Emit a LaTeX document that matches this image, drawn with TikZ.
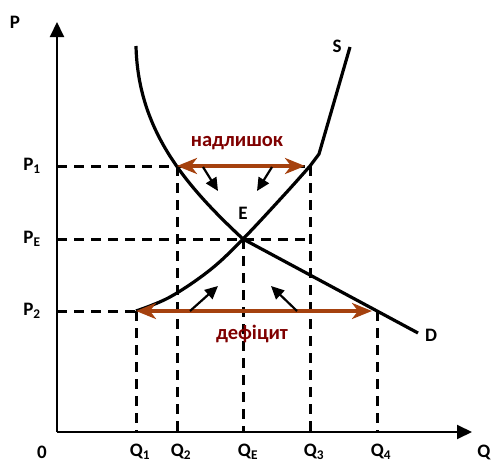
\documentclass[tikz,border=0pt]{standalone}
\usepackage{fontspec}
\setmainfont{Carlito}
\usetikzlibrary{arrows.meta}
\definecolor{brownarr}{HTML}{A5410E}
\definecolor{darkred}{HTML}{7F0000}
\tikzset{
  axis/.style={line width=2pt,-{Triangle[length=15pt,width=14pt]}},
  curve/.style={line width=3.2pt},
  guide/.style={line width=3pt,dash pattern=on 10pt off 7pt},
  brownline/.style={line width=3.4pt,draw=brownarr,{Stealth[length=20pt,width=16pt,inset=6pt]}-{Stealth[length=20pt,width=16pt,inset=6pt]}},
  smallarr/.style={line width=2.2pt,-{Triangle[length=13pt,width=12pt]}},
  lbl/.style={font=\fontsize{19}{22}\selectfont\bfseries,inner sep=0pt},
  wordlbl/.style={font=\fontsize{20.5}{24}\selectfont\bfseries,text=darkred,inner sep=0pt}
}
\newcommand{\lsub}[1]{\textsubscript{#1}}
\begin{document}
\begin{tikzpicture}[x=1pt,y=-1pt]
\useasboundingbox (0,0) rectangle (491,463);
% key points
\coordinate (O) at (57,432);
\coordinate (Ptop) at (57,22);
\coordinate (Qend) at (472,432);
\coordinate (A1) at (57,166);
\coordinate (AE) at (57,239);
\coordinate (A2) at (57,311);
\coordinate (B1) at (136,432);
\coordinate (B2) at (177,432);
\coordinate (BE) at (243,432);
\coordinate (B3) at (310,432);
\coordinate (B4) at (377,432);
\coordinate (X2) at (177,166);
\coordinate (X3) at (310,166);
\coordinate (E) at (243,239);
\coordinate (EE) at (310,239);
\coordinate (Y1) at (136,311);
\coordinate (Y4) at (377,311);
% dashed guides
\draw[guide] (A1) -- (X3);
\draw[guide] (AE) -- (EE);
\draw[guide] (A2) -- (Y1);
\draw[guide] (X2) -- (B2);
\draw[guide] (X3) -- (B3);
\draw[guide] (E) -- (BE);
\draw[guide] (Y1) -- (B1);
\draw[guide] (Y4) -- (B4);
% axes
\draw[axis] (O) -- (Ptop);
\draw[axis] (O) -- (Qend);
% demand
\draw[curve] (136,46) .. controls (138,130) and (185,185) .. (E) -- (418,333);
% supply
\draw[curve] plot[smooth,tension=0.6] coordinates {(136,311) (170,297) (210,270) (243,239) (285,194) (310,166)} -- (319,154) -- (350,47);
% brown arrows
\draw[brownline] (177,166) -- (305,166);
\draw[brownline] (136,311) -- (372,311);
% small black arrows
\draw[smallarr] (203,167) -- (218,191);
\draw[smallarr] (272,167) -- (257,191);
\draw[smallarr] (190,311) -- (218,286);
\draw[smallarr] (297,311) -- (271,286);
% labels
\node[lbl] (lP) at (15,22) {P};
\node[lbl] (lQ) at (484,452) {Q};
\node[lbl] (l0) at (42,452) {0};
\node[lbl] (lP1) at (32,166) {P\lsub{1}};
\node[lbl] (lPE) at (32,239) {P\lsub{E}};
\node[lbl] (lP2) at (32,311) {P\lsub{2}};
\node[lbl] (lQ1) at (140,452) {Q\lsub{1}};
\node[lbl] (lQ2) at (181,452) {Q\lsub{2}};
\node[lbl] (lQE) at (248,452) {Q\lsub{E}};
\node[lbl] (lQ3) at (314,452) {Q\lsub{3}};
\node[lbl] (lQ4) at (381,452) {Q\lsub{4}};
\node[lbl] (lE) at (243,213) {E};
\node[lbl] (lS) at (337,46) {S};
\node[lbl] (lD) at (431,335) {D};
\node[wordlbl] (surplus) at (237,143) {надлишок};
\node[wordlbl] (deficit) at (252,334) {дефіцит};
\end{tikzpicture}
\end{document}
